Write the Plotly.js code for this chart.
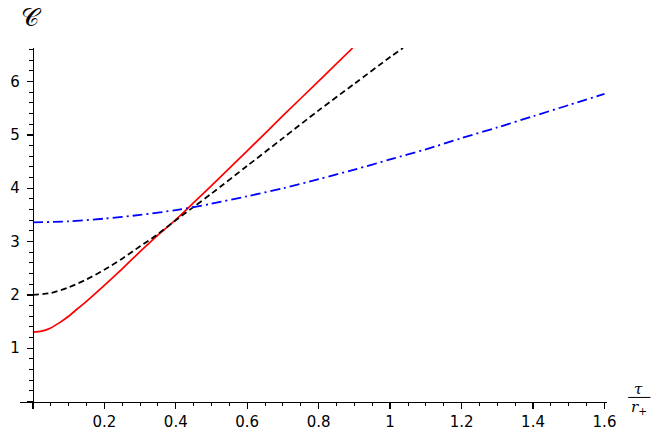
<!DOCTYPE html>
<html>
<head>
<meta charset="utf-8">
<script src="https://cdn.plot.ly/plotly-3.0.1.min.js"></script>
<style>html,body{margin:0;padding:0;background:#fff;}#chart{width:665px;height:440px;}</style>
</head>
<body>
<div id="chart"></div>
<script>
// Data (x = tau / r_+, y = C)
var redX   = [0, 0.025, 0.05, 0.075, 0.1, 0.125, 0.15, 0.2, 0.25, 0.3, 0.35, 0.4, 0.45, 0.5, 0.6, 0.7, 0.8, 0.895];
var redY   = [1.30, 1.32, 1.38, 1.48, 1.60, 1.74, 1.88, 2.18, 2.49, 2.81, 3.12, 3.41, 3.73, 4.05, 4.70, 5.36, 6.01, 6.63];

var blackX = [0, 0.05, 0.1, 0.15, 0.2, 0.25, 0.3, 0.35, 0.4, 0.45, 0.5, 0.6, 0.7, 0.8, 0.9, 1.0, 1.036];
var blackY = [2.00, 2.035, 2.14, 2.29, 2.47, 2.68, 2.91, 3.14, 3.40, 3.65, 3.90, 4.42, 4.94, 5.46, 5.96, 6.46, 6.63];

var blueX  = [0, 0.1, 0.2, 0.3, 0.4, 0.5, 0.6, 0.7, 0.8, 0.9, 1.0, 1.1, 1.2, 1.3, 1.4, 1.5, 1.6];
var blueY  = [3.36, 3.38, 3.43, 3.50, 3.59, 3.71, 3.85, 4.00, 4.17, 4.35, 4.54, 4.73, 4.94, 5.14, 5.35, 5.56, 5.77];

var xTickVals = [0, 0.2, 0.4, 0.6, 0.8, 1, 1.2, 1.4, 1.6];
var xTickText = ['', '0.2', '0.4', '0.6', '0.8', '1', '1.2', '1.4', '1.6'];
var yTickVals = [0, 1, 2, 3, 4, 5, 6];
var yTickText = ['', '1', '2', '3', '4', '5', '6'];

var xRange = [-0.036, 1.607];
var yRange = [-0.14, 6.63];

var traces = [
  {x: redX, y: redY, mode: 'lines', line: {color: '#ff0000', width: 1.7, shape: 'spline', smoothing: 0.8}, hoverinfo: 'skip'},
  {x: blackX, y: blackY, mode: 'lines', line: {color: '#000000', width: 1.8, dash: '6px,3.5px', shape: 'spline', smoothing: 0.8}, hoverinfo: 'skip'},
  {x: blueX, y: blueY, mode: 'lines', line: {color: '#0000ff', width: 1.8, dash: '10px,4px,2px,4px', shape: 'spline', smoothing: 0.8}, hoverinfo: 'skip'}
];

var font = {family: 'DejaVu Sans', size: 15, color: '#000'};

var layout = {
  width: 665, height: 440,
  margin: {l: 20, r: 58, t: 48, b: 31, pad: 0},
  paper_bgcolor: '#fff', plot_bgcolor: '#fff',
  showlegend: false,
  font: font,
  xaxis: {
    range: xRange, showgrid: false, zeroline: false,
    showline: true, linecolor: '#000', linewidth: 1.3,
    anchor: 'free', position: (0 - yRange[0]) / (yRange[1] - yRange[0]),
    ticks: 'outside', ticklen: 6, tickwidth: 1.3, tickcolor: '#000',
    tickmode: 'array', tickvals: xTickVals, ticktext: xTickText,
    minor: {dtick: 0.05, tick0: 0, ticks: 'outside', ticklen: 3.5, tickwidth: 1, tickcolor: '#000'},
    tickfont: font, fixedrange: true
  },
  yaxis: {
    range: yRange, showgrid: false, zeroline: false,
    showline: true, linecolor: '#000', linewidth: 1.3,
    anchor: 'free', position: (0 - xRange[0]) / (xRange[1] - xRange[0]),
    ticks: 'outside', ticklen: 6, tickwidth: 1.3, tickcolor: '#000',
    tickmode: 'array', tickvals: yTickVals, ticktext: yTickText,
    minor: {dtick: 0.2, tick0: 0, ticks: 'outside', ticklen: 3.5, tickwidth: 1, tickcolor: '#000'},
    tickfont: font, ticklabelstandoff: 4, fixedrange: true
  },
  annotations: [
    {xref: 'paper', yref: 'paper', x: 0.02, y: 1.085, xanchor: 'center', yanchor: 'middle',
     text: '𝒞', showarrow: false, font: {family: 'DejaVu Serif', size: 25, color: '#000'}},
    {xref: 'paper', yref: 'paper', x: 1.054, y: 0.055, xanchor: 'center', yanchor: 'middle',
     text: '<i>τ</i>', showarrow: false, font: {family: 'DejaVu Serif', size: 15, color: '#000'}},
    {xref: 'paper', yref: 'paper', x: 1.055, y: 0.004, xanchor: 'center', yanchor: 'middle',
     text: '<i>r</i><sub>+</sub>', showarrow: false, font: {family: 'DejaVu Serif', size: 15, color: '#000'}}
  ],
  shapes: [
    {type: 'line', xref: 'paper', yref: 'paper', x0: 1.036, x1: 1.074, y0: 0.032, y1: 0.032,
     line: {color: '#000', width: 1}}
  ]
};

Plotly.newPlot('chart', traces, layout, {displayModeBar: false, staticPlot: true});
</script>
</body>
</html>
